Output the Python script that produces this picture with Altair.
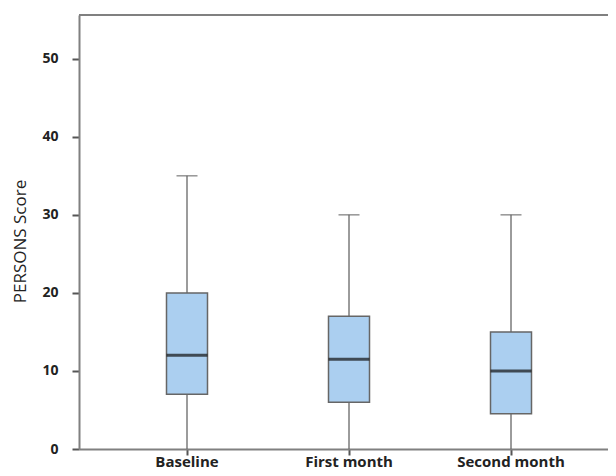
import altair as alt
import pandas as pd

categories = ["Baseline", "First month", "Second month"]
mins = [0, 0, 0]
q1 = [7, 6, 4.5]
medians = [12, 11.5, 10]
q3 = [20, 17, 15]
maxs = [35, 30, 30]
y_ticks = [0, 10, 20, 30, 40, 50]

df = pd.DataFrame({
    "cat": categories, "min": mins, "q1": q1, "median": medians, "q3": q3, "max": maxs
})

W, H = 529, 434
FONT = "Open Sans"

xenc = alt.X("cat:N", sort=categories,
             scale=alt.Scale(paddingInner=0, paddingOuter=0.1327, align=0.628),
             axis=alt.Axis(title=None, labelAngle=0, labelFontWeight="bold", labelFontSize=15,
                           labelColor="#222222", labelFont=FONT, labelPadding=11,
                           labelBaseline="alphabetic",
                           tickSize=6, tickWidth=2, tickColor="#555555",
                           domainColor="#808080", domainWidth=2))
yscale = alt.Scale(domain=[0, 55.6], nice=False, zero=True)
yaxis = alt.Axis(values=y_ticks, grid=False, title="PERSONS Score", titleFont=FONT,
                 titleFontSize=17, titleFontWeight="normal", titleColor="#222222",
                 titleX=-59, titleY=226, titleBaseline="middle", titleAngle=270,
                 labelFont=FONT, labelFontSize=14, labelFontWeight="bold", labelColor="#222222",
                 labelPadding=14, tickSize=7, tickWidth=2, tickColor="#555555",
                 domainColor="#808080", domainWidth=2)

base = alt.Chart(df)
whisker = base.mark_rule(color="#666666", strokeWidth=1.3).encode(
    x=xenc, y=alt.Y("min:Q", scale=yscale, axis=yaxis), y2="max:Q")
box = base.mark_bar(size=41, color="#ABCFF0", stroke="#666666", strokeWidth=1.5).encode(
    x=alt.X("cat:N", sort=categories), y="q1:Q", y2="q3:Q")
median = base.mark_tick(size=41, thickness=3, color="#111111").encode(
    x=alt.X("cat:N", sort=categories), y="median:Q")
cap = base.mark_tick(size=21, thickness=1.5, color="#666666").encode(
    x=alt.X("cat:N", sort=categories), y="max:Q")
top = alt.Chart(pd.DataFrame({"a": [0]})).mark_rule(color="#808080", strokeWidth=2).encode(
    x=alt.value(0), x2=alt.value(W), y=alt.value(0))

chart = alt.layer(whisker, box, median, cap, top).properties(
    width=W, height=H,
    padding={"left": 71, "top": 7, "right": 0, "bottom": 21},
    autosize=alt.AutoSizeParams(type="none"),
).configure_view(stroke=None)

chart.save("out.html", embed_options={"renderer": "svg", "actions": False})
